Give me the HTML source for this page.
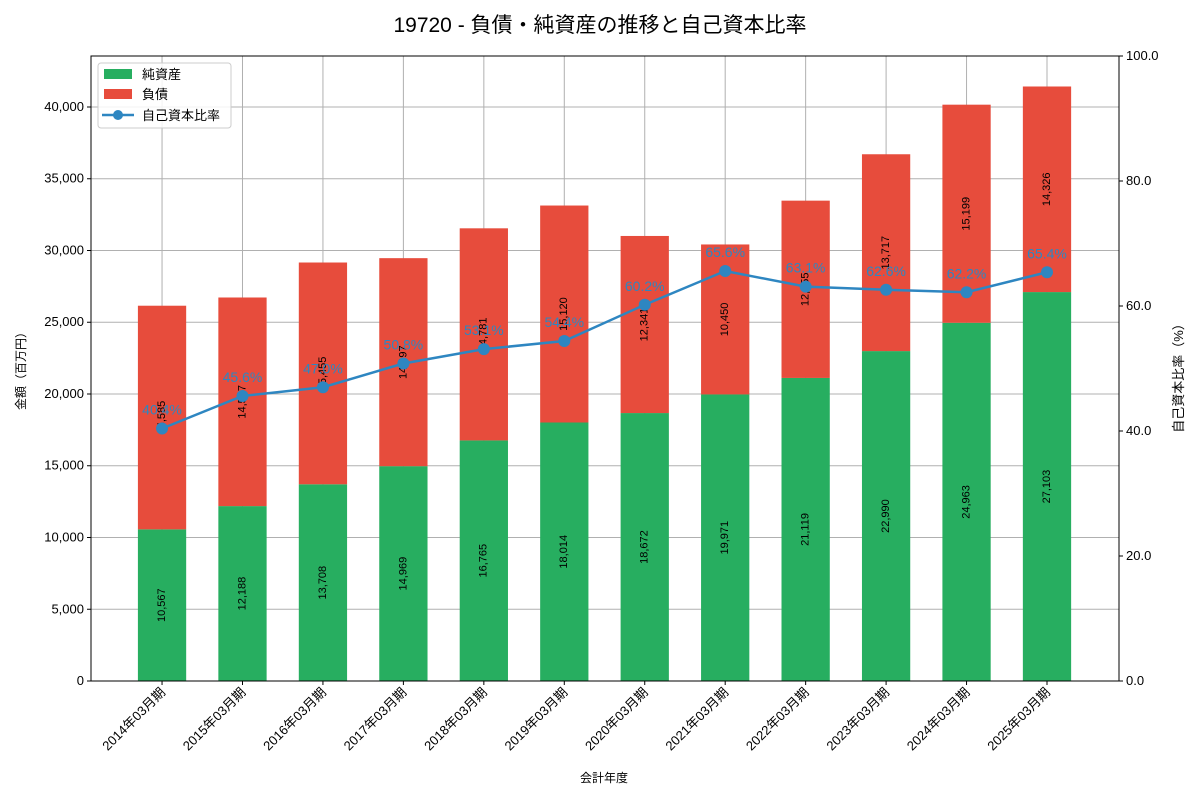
<!DOCTYPE html>
<html><head><meta charset="utf-8"><style>
body{margin:0;background:#fff;font-family:"Liberation Sans","Noto Sans CJK JP",sans-serif}
svg text{font-family:"Liberation Sans","Noto Sans CJK JP",sans-serif}
</style></head><body>
<svg id="c" width="1200" height="800" xmlns="http://www.w3.org/2000/svg"></svg>
<script>
const categories=["2014年03月期","2015年03月期","2016年03月期","2017年03月期","2018年03月期","2019年03月期","2020年03月期","2021年03月期","2022年03月期","2023年03月期","2024年03月期","2025年03月期"];
const equity=[10567,12188,13708,14969,16765,18014,18672,19971,21119,22990,24963,27103];
const liabilities=[15585,14537,15455,14497,14781,15120,12341,10450,12355,13717,15199,14326];
const ratio=[40.4,45.6,47.0,50.8,53.1,54.4,60.2,65.6,63.1,62.6,62.2,65.4];
const leftTicks=[0,5000,10000,15000,20000,25000,30000,35000,40000];
const rightTicks=[0,20,40,60,80,100];
const L=91,R=1119,T=56,B=681,YMAX=43554;
const step=(R-L)/(categories.length-1+0.883+0.895);
const xs=i=>L+(i+0.883)*step;
const yL=v=>B-(B-T)*v/YMAX;
const yR=v=>B-(B-T)*v/100;
const svg=document.getElementById('c');
const NS="http://www.w3.org/2000/svg";
function el(t,a,txt){const e=document.createElementNS(NS,t);for(const k in a)e.setAttribute(k,a[k]);if(txt!=null)e.textContent=txt;svg.appendChild(e);return e;}
const fmt=v=>v.toLocaleString('en-US');
let e;
e=el('text',{x:600,y:32,'text-anchor':'middle','font-size':21,fill:'#000'},'19720 - 負債・純資産の推移と自己資本比率');


// grid
leftTicks.forEach(v=>{e=el('line',{x1:L,x2:R,y1:yL(v),y2:yL(v),stroke:'#b0b0b0','stroke-width':1});

});
categories.forEach((c,i)=>{e=el('line',{x1:xs(i),x2:xs(i),y1:T,y2:B,stroke:'#b0b0b0','stroke-width':1});

});
const bw=step*0.6;
categories.forEach((c,i)=>{
 e=el('rect',{x:xs(i)-bw/2,y:yL(equity[i]),width:bw,height:B-yL(equity[i]),fill:'#27ae60'});
 
 
 const top=equity[i]+liabilities[i];
 e=el('rect',{x:xs(i)-bw/2,y:yL(top),width:bw,height:yL(equity[i])-yL(top),fill:'#e74c3c'});
 
 
 let ym=yL(equity[i]/2);
 e=el('text',{x:xs(i),y:ym,'font-size':11,'text-anchor':'middle','dominant-baseline':'middle',transform:`rotate(-90 ${xs(i)} ${ym})`},fmt(equity[i]));
 
 
 ym=yL(equity[i]+liabilities[i]/2);
 e=el('text',{x:xs(i),y:ym,'font-size':11,'text-anchor':'middle','dominant-baseline':'middle',transform:`rotate(-90 ${xs(i)} ${ym})`},fmt(liabilities[i]));
 
 
});
// line
e=el('polyline',{points:ratio.map((r,i)=>xs(i)+','+yR(r)).join(' '),fill:'none',stroke:'#2e86c1','stroke-width':2.5});


ratio.forEach((r,i)=>{
 e=el('circle',{cx:xs(i),cy:yR(r),r:6,fill:'#2e86c1'});
 
 
 e=el('text',{x:xs(i),y:yR(r)-14,'font-size':14,'text-anchor':'middle',fill:'#2e86c1'},r.toFixed(1)+'%');
 
 
});
// axes frame
e=el('rect',{x:L,y:T,width:R-L,height:B-T,fill:'none',stroke:'#000','stroke-width':1});


leftTicks.forEach(v=>{el('line',{x1:L-4,x2:L,y1:yL(v),y2:yL(v),stroke:'#000'});
 e=el('text',{x:L-7,y:yL(v)+4,'font-size':13,'text-anchor':'end'},fmt(v));
 
 });
rightTicks.forEach(v=>{el('line',{x1:R,x2:R+4,y1:yR(v),y2:yR(v),stroke:'#000'});
 e=el('text',{x:R+7,y:yR(v)+4,'font-size':13,'text-anchor':'start'},v.toFixed(1));
 
 });
categories.forEach((c,i)=>{el('line',{x1:xs(i),x2:xs(i),y1:B,y2:B+4,stroke:'#000'});
 e=el('text',{x:xs(i)+4,y:B+12,'font-size':13,'text-anchor':'end',transform:`rotate(-45 ${xs(i)+4} ${B+12})`},c);
 
 });
e=el('text',{x:604,y:782,'font-size':12,'text-anchor':'middle'},'会計年度');


e=el('text',{x:25,y:368,'font-size':12,'text-anchor':'middle',transform:'rotate(-90 25 368)'},'金額（百万円）');


e=el('text',{x:1183,y:375,'font-size':13,'text-anchor':'middle',transform:'rotate(-90 1183 375)'},'自己資本比率（%）');


// legend
e=el('rect',{x:98,y:63,width:133,height:65,fill:'#fff','fill-opacity':0.85,stroke:'#ccc',rx:3});


e=el('rect',{x:104,y:69,width:28,height:10,fill:'#27ae60'});


e=el('text',{x:142,y:79,'font-size':13},'純資産');


e=el('rect',{x:104,y:89,width:28,height:10,fill:'#e74c3c'});


e=el('text',{x:142,y:99,'font-size':13},'負債');


el('line',{x1:102,x2:134,y1:115,y2:115,stroke:'#2e86c1','stroke-width':2.5});
e=el('circle',{cx:118,cy:115,r:5,fill:'#2e86c1'});


e=el('text',{x:142,y:120,'font-size':13},'自己資本比率');


</script>
</body></html>
